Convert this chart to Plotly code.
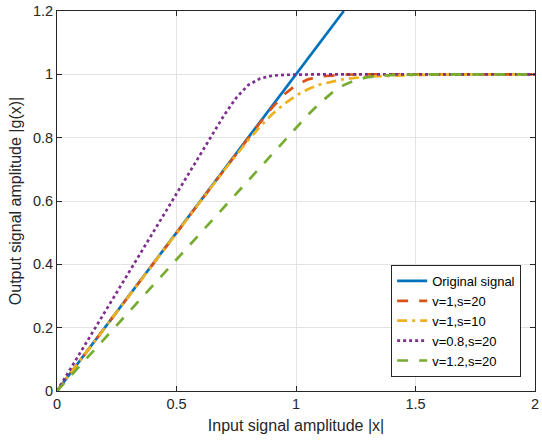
import plotly.graph_objects as go

# Data
x_orig = [0, 1.2]
y_orig = [0, 1.2]

x_r20 = [0, 0.2, 0.4, 0.6, 0.8, 0.85, 0.9, 0.95, 1.0, 1.05, 1.1, 1.15, 1.2, 1.3, 1.5, 2.0]
y_r20 = [0, 0.2, 0.4, 0.6, 0.7995, 0.848, 0.895, 0.936, 0.966, 0.984, 0.993, 0.997, 0.999, 1.0, 1.0, 1.0]

x_r10 = [0, 0.2, 0.4, 0.6, 0.7, 0.8, 0.85, 0.9, 0.95, 1.0, 1.05, 1.1, 1.2, 1.3, 1.4, 1.5, 1.6, 1.8, 2.0]
y_r10 = [0, 0.2, 0.4, 0.5996, 0.698, 0.792, 0.835, 0.874, 0.906, 0.933, 0.953, 0.968, 0.985, 0.993, 0.9966, 0.998, 0.9992, 1.0, 1.0]

x_v08 = [0, 0.2, 0.4, 0.6, 0.7, 0.75, 0.8, 0.85, 0.9, 0.95, 1.0, 1.1, 1.5, 2.0]
y_v08 = [0, 0.25, 0.5, 0.7499, 0.872, 0.926, 0.966, 0.987, 0.9956, 0.9985, 0.9995, 1.0, 1.0, 1.0]

x_v12 = [0, 0.3, 0.6, 0.9, 1.0, 1.05, 1.1, 1.15, 1.2, 1.25, 1.3, 1.35, 1.4, 1.5, 1.6, 2.0]
y_v12 = [0, 0.25, 0.5, 0.7499, 0.832, 0.872, 0.909, 0.9415, 0.966, 0.982, 0.991, 0.9956, 0.9978, 0.9994, 1.0, 1.0]

x_ticks = [0, 0.5, 1, 1.5, 2]
x_labels = ["0", "0.5", "1", "1.5", "2"]
y_ticks = [0, 0.2, 0.4, 0.6, 0.8, 1, 1.2]
y_labels = ["0", "0.2", "0.4", "0.6", "0.8", "1", "1.2"]

names = ["Original signal", "v=1,s=20", "v=1,s=10", "v=0.8,s=20", "v=1.2,s=20"]
colors = ["#0072BD", "#D95319", "#EDB120", "#7E2F8E", "#77AC30"]
dashes = ["solid", "11px,11px", "10px,5px,3px,5px", "3px,3px", "11px,11px"]

series = [(x_orig, y_orig), (x_r20, y_r20), (x_r10, y_r10), (x_v08, y_v08), (x_v12, y_v12)]

fig = go.Figure()
for (xs, ys), n, c, d in zip(series, names, colors, dashes):
    fig.add_trace(go.Scatter(x=xs, y=ys, mode="lines", name=n,
                             line=dict(color=c, width=2.7, dash=d)))

font_family = "Liberation Sans, Arial, sans-serif"
axis_common = dict(
    showgrid=True, gridcolor="#e3e3e3", gridwidth=1,
    showline=True, linecolor="#262626", linewidth=1, mirror="ticks",
    ticks="inside", ticklen=5, tickcolor="#262626",
    zeroline=False,
    tickfont=dict(family=font_family, size=14.5, color="#262626"),
)

fig.update_layout(
    width=542, height=443,
    margin=dict(l=57, r=3, t=10, b=52),
    paper_bgcolor="white", plot_bgcolor="white",
    font=dict(family=font_family, color="#262626"),
    xaxis=dict(range=[0, 2], tickvals=x_ticks, ticktext=x_labels, ticklabeloverflow="allow",
               title=dict(text="Input signal amplitude |x|", font=dict(size=16, family=font_family), standoff=8),
               **axis_common),
    yaxis=dict(range=[0, 1.2], tickvals=y_ticks, ticktext=y_labels,
               title=dict(text="Output signal amplitude |g(x)|", font=dict(size=16, family=font_family), standoff=7),
               **axis_common),
    legend=dict(x=0.971, y=0.037, xanchor="right", yanchor="bottom",
                bgcolor="white", bordercolor="#262626", borderwidth=1,
                font=dict(family=font_family, size=13, color="#000000"),
                tracegroupgap=0, itemwidth=30),
    showlegend=True,
)

fig.write_html("out.html")
